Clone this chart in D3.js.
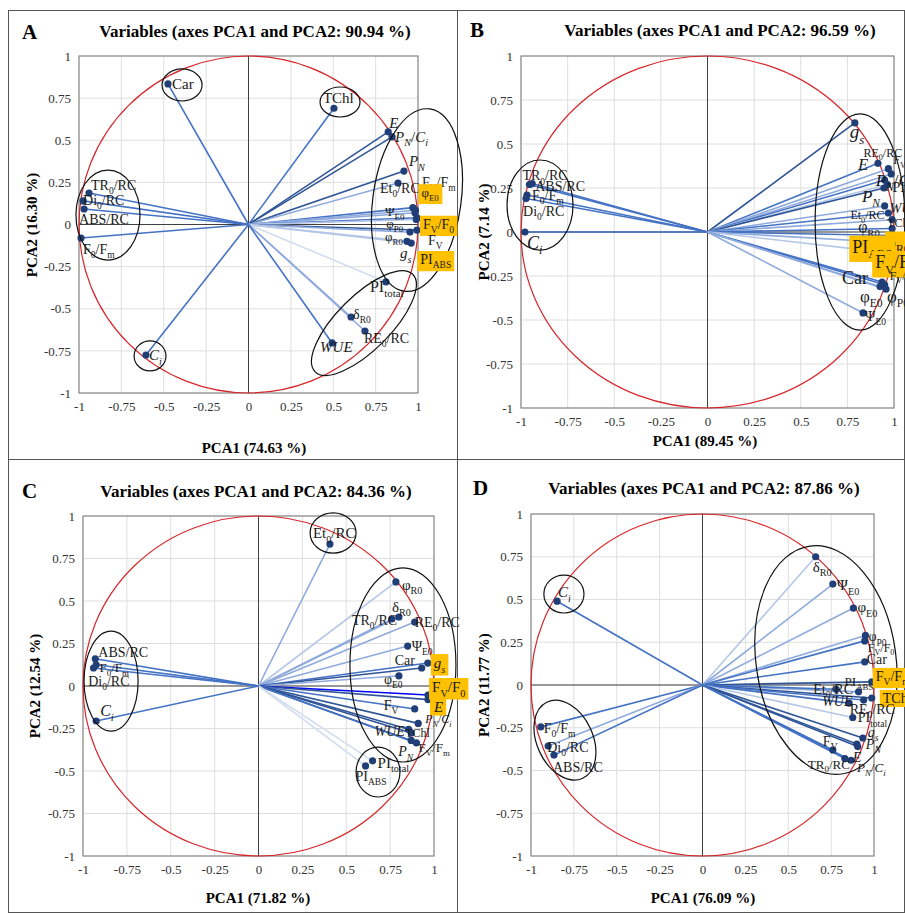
<!DOCTYPE html>
<html>
<head>
<meta charset="utf-8">
<script src="https://cdn.jsdelivr.net/npm/d3@7"></script>
<style>
  body { margin: 0; background: #fff; }
  text { font-family: "Liberation Serif", "Times New Roman", serif; }
</style>
</head>
<body>
<svg id="chart" width="905" height="913"></svg>
<script>
// axis ticks shared by all four panels
const ticks = [-1, -0.75, -0.5, -0.25, 0, 0.25, 0.5, 0.75, 1];

const titleText = [
  'Variables (axes PCA1 and PCA2: 90.94 %)',
  'Variables (axes PCA1 and PCA2: 96.59 %)',
  'Variables (axes PCA1 and PCA2: 84.36 %)',
  'Variables (axes PCA1 and PCA2: 87.86 %)'
];
const pca1Title = ['PCA1 (74.63 %)', 'PCA1 (89.45 %)', 'PCA1 (71.82 %)', 'PCA1 (76.09 %)'];
const pca2Title = ['PCA2 (16.30 %)', 'PCA2 (7.14 %)', 'PCA2 (12.54 %)', 'PCA2 (11.77 %)'];

// labels: _{..} = subscript, *..* = italic
// panel A
const varsA = ['Car', 'TChl', '*E*', '*P*_{*N*}/*C*_{*i*}', '*P*_{*N*}', 'F_{V}/F_{m}', 'Et_{0}/RC', 'φ_{E0}',
  'Ψ_{E0}', 'F_{V}/F_{0}', 'φ_{P0}', 'F_{V}', 'φ_{R0}', '*g*_{*s*}', 'PI_{ABS}', 'PI_{total}', 'δ_{R0}',
  'RE_{0}/RC', '*WUE*', '*C*_{*i*}', 'TR_{0}/RC', 'Di_{0}/RC', 'ABS/RC', 'F_{0}/F_{m}'];
const pc1A = [-0.475, 0.504, 0.824, 0.847, 0.917, 0.97, 0.882, 0.985, 0.982, 0.994, 0.99, 0.994, 0.953,
  0.935, 0.96, 0.811, 0.605, 0.687, 0.493, -0.605, -0.941, -0.976, -0.97, -0.988];
const pc2A = [0.834, 0.69, 0.55, 0.52, 0.317, 0.1, 0.246, 0.085, 0.07, 0.04, 0.03, -0.033, -0.045,
  -0.1, -0.11, -0.341, -0.549, -0.632, -0.703, -0.775, 0.187, 0.14, 0.092, -0.08];
const hiA = ['φ_{E0}', 'F_{V}/F_{0}', 'PI_{ABS}'];

// panel B
const varsB = ['TR_{0}/RC', 'ABS/RC', 'F_{0}/F_{m}', 'Di_{0}/RC', '*C*_{*i*}', '*g*_{*s*}', '*E*', 'RE_{0}/RC',
  'F_{V}', '*P*_{*N*}/*C*_{*i*}', 'PI_{total}', '*P*_{*N*}', '*WUE*', 'Et_{0}/RC', 'TChl', 'φ_{R0}', 'δ_{R0}',
  'PI_{ABS}', 'F_{V}/F_{m}', 'Car', 'F_{V}/F_{0}', 'φ_{E0}', 'φ_{P0}', 'Ψ_{E0}'];
const pc1B = [-0.955, -0.94, -0.968, -0.973, -0.979, 0.79, 0.914, 0.97, 0.985, 0.95, 0.965, 0.946, 0.95,
  0.97, 0.99, 0.99, 0.995, 0.98, 0.985, 0.936, 0.95, 0.925, 0.957, 0.834];
const pc2B = [0.27, 0.275, 0.21, 0.19, 0.0, 0.62, 0.39, 0.36, 0.33, 0.295, 0.27, 0.25, 0.148,
  0.108, 0.07, 0.02, -0.02, -0.06, -0.12, -0.284, -0.3, -0.31, -0.325, -0.46];
const hiB = ['δ_{R0}', 'PI_{ABS}', 'F_{V}/F_{m}'];

// panel C
const varsC = ['Et_{0}/RC', 'φ_{R0}', 'δ_{R0}', 'TR_{0}/RC', 'RE_{0}/RC', 'Ψ_{E0}', '*g*_{*s*}', 'Car', 'φ_{E0}',
  'F_{V}/F_{0}', '*E*', 'F_{V}', '*P*_{*N*}/*C*_{*i*}', '*WUE*', 'TChl', '*P*_{*N*}', 'F_{V}/F_{m}', 'PI_{total}',
  'PI_{ABS}', 'ABS/RC', 'F_{0}/F_{m}', 'Di_{0}/RC', '*C*_{*i*}'];
const pc1C = [0.407, 0.783, 0.80, 0.76, 0.89, 0.85, 0.965, 0.93, 0.80, 0.966, 0.966, 0.89, 0.91, 0.855,
  0.87, 0.87, 0.9, 0.65, 0.61, -0.93, -0.94, -0.925, -0.925];
const pc2C = [0.835, 0.612, 0.406, 0.394, 0.376, 0.235, 0.135, 0.106, 0.06, -0.053, -0.08, -0.135, -0.22,
  -0.255, -0.276, -0.32, -0.335, -0.44, -0.47, 0.16, 0.106, 0.125, -0.206];
const hiC = ['*g*_{*s*}', 'F_{V}/F_{0}', '*E*'];

// panel D
const varsD = ['*C*_{*i*}', 'F_{0}/F_{m}', 'Di_{0}/RC', 'ABS/RC', 'δ_{R0}', 'Ψ_{E0}', 'φ_{E0}', 'φ_{P0}',
  'F_{V}/F_{0}', 'Car', 'F_{V}/F_{m}', 'PI_{ABS}', 'Et_{0}/RC', 'TChl', '*WUE*', 'RE_{0}/RC', 'PI_{total}',
  '*g*_{*s*}', '*P*_{*N*}', '*E*', 'F_{V}', 'TR_{0}/RC', '*P*_{*N*}/*C*_{*i*}'];
const pc1D = [-0.848, -0.943, -0.90, -0.866, 0.66, 0.76, 0.88, 0.95, 0.946, 0.946, 0.987, 0.91, 0.78,
  0.987, 0.855, 0.94, 0.876, 0.935, 0.90, 0.905, 0.76, 0.83, 0.866];
const pc2D = [0.49, -0.245, -0.357, -0.41, 0.75, 0.59, 0.45, 0.29, 0.258, 0.135, 0.018, -0.04, -0.025,
  -0.076, -0.106, -0.088, -0.19, -0.31, -0.345, -0.36, -0.38, -0.43, -0.44];
const hiD = ['F_{V}/F_{m}', 'TChl'];

// ---- styling / layout (not data) ----
const shadeColors = ['#2F5597', '#4472C4', '#8FAADC', '#B4C7E7', '#D3DDEF', '#0000FF'];
const shadeA = [1, 1, 0, 0, 0, 1, 2, 2, 2, 1, 3, 0, 2, 3, 3, 4, 2, 2, 1, 1, 1, 1, 1, 1];
const shadeB = [1, 1, 1, 1, 1, 0, 1, 2, 2, 1, 3, 0, 2, 1, 2, 1, 1, 2, 3, 1, 1, 2, 2, 2];
const shadeC = [2, 3, 2, 2, 2, 2, 1, 0, 2, 5, 0, 1, 0, 0, 0, 0, 1, 4, 4, 1, 1, 1, 1];
const shadeD = [1, 1, 2, 1, 3, 2, 2, 2, 1, 1, 0, 2, 1, 0, 1, 1, 3, 0, 0, 0, 1, 1, 1];

// label offsets from the dot [dx, dy] and font sizes
const offA = [[4, 5], [-11, -5], [1, -4], [3, 5], [5, -5], [9, -21], [-18, 10], [6, -13], [-30, 3], [6, 11],
  [-30, 9], [11, 15], [-25, 9], [-7, 17], [9, 21], [-16, 10], [2, 2], [-1, 12], [-12, 9], [3, 5], [2, -3],
  [0, 4], [-5, 15], [2, 16]];
const sizeA = [15, 15, 15, 15, 15, 14, 14, 13, 13, 14, 13, 14, 13, 15, 14, 16, 14, 14, 15, 15, 14, 14, 14, 14];
const offB = [[-7, -4], [3, 7], [5, 5], [-3, 17], [2, 17], [-5, 15], [-20, 7], [-25, -12], [2, -10], [-9, 6],
  [5, 8], [-22, 14], [5, 7], [-38, 6], [-5, 7], [-34, 4], [-5, 12], [-38, 10], [-16, 15], [-40, 2], [5, -5],
  [-20, 15], [1, 13], [2, 8]];
const sizeB = [14, 14, 14, 14, 18, 19, 17, 12, 12, 17, 14, 17, 14, 12, 12, 16, 17, 18, 18, 18, 12, 17, 17, 14];
const offC = [[-17, -6], [6, 8], [-7, -5], [-40, 6], [0, 5], [4, 5], [6, 5], [-27, -3], [-15, 8], [4, -3],
  [6, 12], [-31, 1], [7, 0], [-34, 7], [-6, 4], [-13, 16], [2, 9], [5, 7], [-10, 15], [3, -2], [6, 4],
  [-8, 21], [4, -5]];
const sizeC = [15, 15, 15, 14, 14, 14, 15, 14, 14, 15, 15, 14, 12, 14, 12, 14, 13, 15, 14, 14, 13, 14, 16];
const offD = [[1, -4], [3, 6], [-1, 6], [-1, 17], [-3, 15], [4, 6], [4, 4], [3, 6], [3, 11], [2, 2], [4, -1],
  [-14, -6], [-23, 5], [11, 5], [-27, 3], [-14, 14], [5, 5], [5, -1], [9, 5], [-5, 15], [-10, -4], [-37, 10],
  [6, 12]];
const sizeD = [15, 14, 14, 14, 15, 15, 15, 14, 12, 14, 14, 13, 14, 14, 14, 14, 14, 14, 14, 14, 14, 13, 13];

// grouping ellipses in PCA units: [cx, cy, rx, ry, rotation deg]
const ellA = [[-0.829, 0.056, 0.189, 0.267, 0], [-0.392, 0.828, 0.118, 0.095, 0], [0.54, 0.727, 0.118, 0.089, 0],
  [0.994, 0.145, 0.26, 0.546, 8], [0.681, -0.585, 0.407, 0.16, -45], [-0.581, -0.78, 0.094, 0.089, 0]];
const ellB = [[-0.898, 0.153, 0.177, 0.256, 0], [0.818, 0.057, 0.241, 0.614, 0]];
const ellC = [[0.425, 0.9, 0.131, 0.118, 0], [0.823, 0.124, 0.302, 0.571, 0], [0.681, -0.506, 0.125, 0.147, 0],
  [-0.84, 0.029, 0.154, 0.294, 0]];
const ellD = [[-0.808, 0.532, 0.117, 0.111, 0], [-0.802, -0.322, 0.163, 0.246, -25], [0.72, 0.146, 0.408, 0.673, -8]];

const panels = [
  { id: 'A', vars: varsA, pc1: pc1A, pc2: pc2A, hi: hiA, shade: shadeA, off: offA, size: sizeA, ell: ellA,
    box: [79, 418, 56, 393], letter: [22, 39], title: [255, 37], xt: [254, 453], yt: [32, 225] },
  { id: 'B', vars: varsB, pc1: pc1B, pc2: pc2B, hi: hiB, shade: shadeB, off: offB, size: sizeB, ell: ellB,
    box: [521, 894, 56, 408], letter: [470, 37], title: [720, 36], xt: [705, 446], yt: [484, 232] },
  { id: 'C', vars: varsC, pc1: pc1C, pc2: pc2C, hi: hiC, shade: shadeC, off: offC, size: sizeC, ell: ellC,
    box: [83, 434, 516, 856], letter: [22, 498], title: [256, 497], xt: [258, 903], yt: [35, 686] },
  { id: 'D', vars: varsD, pc1: pc1D, pc2: pc2D, hi: hiD, shade: shadeD, off: offD, size: sizeD, ell: ellD,
    box: [531, 874, 514, 856], letter: [473, 495], title: [704, 494], xt: [703, 903], yt: [484, 685] }
];

const svg = d3.select('#chart');

// panel frames
svg.append('rect').attr('x', 8.5).attr('y', 10.5).attr('width', 896).attr('height', 902)
  .attr('fill', 'none').attr('stroke', '#555').attr('stroke-width', 1);
svg.append('line').attr('x1', 457.5).attr('x2', 457.5).attr('y1', 10).attr('y2', 913)
  .attr('stroke', '#555');
svg.append('line').attr('x1', 8).attr('x2', 905).attr('y1', 459.5).attr('y2', 459.5)
  .attr('stroke', '#555');

// write a label with subscripts / italics into a <text>
function rich(text, str, size) {
  const re = /_\{([^}]*)\}|\*([^*]+)\*|([^_*]+)/g;
  let m, shift = 0;
  while ((m = re.exec(str)) !== null) {
    let t, italic = false, sub = false;
    if (m[1] !== undefined) {
      sub = true; t = m[1];
      if (t.includes('*')) { italic = true; t = t.replace(/\*/g, ''); }
    } else if (m[2] !== undefined) { italic = true; t = m[2]; }
    else t = m[3];
    const target = sub ? size * 0.3 : 0;
    const ts = text.append('tspan').text(t)
      .attr('dy', target - shift)
      .attr('font-size', sub ? size * 0.68 : size);
    if (italic) ts.attr('font-style', 'italic');
    shift = target;
  }
}

panels.forEach(p => {
  const [x0, x1, y0, y1] = p.box;
  const x = d3.scaleLinear([-1, 1], [x0, x1]);
  const y = d3.scaleLinear([-1, 1], [y1, y0]);
  const g = svg.append('g');

  // grid
  g.selectAll('.vg').data(ticks).join('line')
    .attr('x1', d => x(d)).attr('x2', d => x(d)).attr('y1', y0).attr('y2', y1)
    .attr('stroke', '#dedede').attr('stroke-width', 1);
  g.selectAll('.hg').data(ticks).join('line').attr('class', 'hg')
    .attr('x1', x0).attr('x2', x1).attr('y1', d => y(d)).attr('y2', d => y(d))
    .attr('stroke', '#dedede').attr('stroke-width', 1);
  g.append('rect').attr('x', x0).attr('y', y0).attr('width', x1 - x0).attr('height', y1 - y0)
    .attr('fill', 'none').attr('stroke', '#8c8c8c').attr('stroke-width', 1.2);

  // zero axes
  g.append('line').attr('x1', x(0)).attr('x2', x(0)).attr('y1', y0).attr('y2', y1)
    .attr('stroke', '#404040').attr('stroke-width', 1);
  g.append('line').attr('x1', x0).attr('x2', x1).attr('y1', y(0)).attr('y2', y(0))
    .attr('stroke', '#404040').attr('stroke-width', 1);

  // tick labels
  const fmt = d => String(d);
  const ax = g.append('g').attr('transform', `translate(0,${y1})`)
    .call(d3.axisBottom(x).tickValues(ticks).tickFormat(fmt).tickSize(0).tickPadding(9));
  const ay = g.append('g').attr('transform', `translate(${x0},0)`)
    .call(d3.axisLeft(y).tickValues(ticks).tickFormat(fmt).tickSize(0).tickPadding(8));
  [ax, ay].forEach(a => {
    a.select('.domain').remove();
    a.selectAll('text').attr('font-family', '"Liberation Serif", serif')
      .attr('font-size', 13).attr('fill', '#333');
  });

  // correlation circle
  g.append('ellipse').attr('cx', x(0)).attr('cy', y(0))
    .attr('rx', x(1) - x(0)).attr('ry', y(0) - y(1))
    .attr('fill', 'none').attr('stroke', '#D7262B').attr('stroke-width', 1.2);

  const pts = p.vars.map((v, i) => ({ v, px: p.pc1[i], py: p.pc2[i], i }));

  // vectors
  g.selectAll('.vec').data(pts).join('line')
    .attr('x1', x(0)).attr('y1', y(0))
    .attr('x2', d => x(d.px)).attr('y2', d => y(d.py))
    .attr('stroke', d => shadeColors[p.shade[d.i]])
    .attr('stroke-width', 1.6);

  // points
  g.selectAll('.pt').data(pts).join('circle')
    .attr('cx', d => x(d.px)).attr('cy', d => y(d.py)).attr('r', 3.6)
    .attr('fill', '#203E77');

  // grouping ellipses
  g.selectAll('.grp').data(p.ell).join('ellipse')
    .attr('transform', d => `translate(${x(d[0])},${y(d[1])}) rotate(${d[4]})`)
    .attr('rx', d => x(d[2]) - x(0)).attr('ry', d => y(0) - y(d[3]))
    .attr('fill', 'none').attr('stroke', '#111').attr('stroke-width', 1.2);

  // labels
  pts.forEach(d => {
    const [dx, dy] = p.off[d.i];
    const lg = g.append('g');
    const t = lg.append('text')
      .attr('x', x(d.px) + dx).attr('y', y(d.py) + dy)
      .attr('fill', '#1a1a1a');
    rich(t, d.v, p.size[d.i]);
    if (p.hi.includes(d.v)) {
      const bb = t.node().getBBox();
      lg.insert('rect', 'text')
        .attr('x', bb.x - 3).attr('y', bb.y - 1)
        .attr('width', bb.width + 6).attr('height', bb.height + 2)
        .attr('fill', '#FFC000');
    }
  });

  // titles
  svg.append('text').attr('x', p.letter[0]).attr('y', p.letter[1])
    .attr('font-size', 21).attr('font-weight', 'bold').text(p.id);
  const k = panels.indexOf(p);
  svg.append('text').attr('x', p.title[0]).attr('y', p.title[1]).attr('text-anchor', 'middle')
    .attr('font-size', 17).attr('font-weight', 'bold').text(titleText[k]);
  svg.append('text').attr('x', p.xt[0]).attr('y', p.xt[1]).attr('text-anchor', 'middle')
    .attr('font-size', 15).attr('font-weight', 'bold').text(pca1Title[k]);
  svg.append('text').attr('transform', `translate(${p.yt[0]},${p.yt[1]}) rotate(-90)`)
    .attr('text-anchor', 'middle').attr('dy', '0.35em')
    .attr('font-size', 15).attr('font-weight', 'bold').text(pca2Title[k]);
});
</script>
</body>
</html>
